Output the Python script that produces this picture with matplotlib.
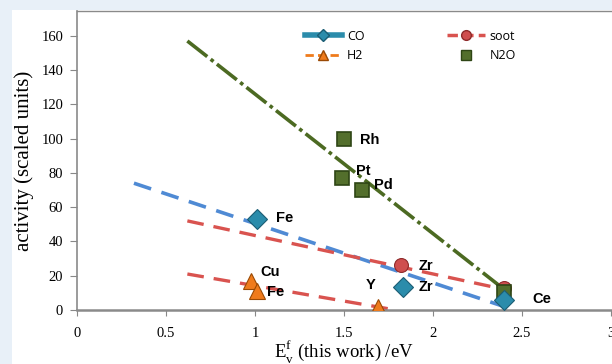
import matplotlib
matplotlib.use("Agg")
import matplotlib.pyplot as plt
from matplotlib.patches import Rectangle
from matplotlib.lines import Line2D

plt.rcParams["mathtext.fontset"] = "custom"
plt.rcParams["mathtext.rm"] = "Liberation Serif"

# ---- data ----
co_x = [1.01, 1.83, 2.40]
co_y = [53, 13.5, 6]
co_lab = ["Fe", "Zr", "Ce"]

soot_x = [1.82, 2.40]
soot_y = [26, 13]
soot_lab = ["Zr", ""]

h2_x = [0.98, 1.01, 1.69]
h2_y = [17, 11, 1.5]
h2_lab = ["Cu", "Fe", "Y"]

n2o_x = [1.50, 1.49, 1.60, 2.40]
n2o_y = [100, 77, 70, 10.5]
n2o_lab = ["Rh", "Pt", "Pd", ""]

# trend lines (end points)
co_fit_x = [0.32, 2.40]
co_fit_y = [74, 2]
soot_fit_x = [0.62, 2.38]
soot_fit_y = [52, 12.5]
h2_fit_x = [0.62, 1.79]
h2_fit_y = [21, 0]
n2o_fit_x = [0.62, 2.40]
n2o_fit_y = [157, 12]

x_ticks = [0, 0.5, 1, 1.5, 2, 2.5, 3]
x_ticklabels = ["0", "0.5", "1", "1.5", "2", "2.5", "3"]
y_ticks = [0, 20, 40, 60, 80, 100, 120, 140, 160]

# label placements (data coords)
labels = [
    ("Rh", 1.59, 99), ("Pt", 1.57, 81), ("Pd", 1.67, 73),
    ("Fe", 1.12, 53.5), ("Zr", 1.92, 25.5), ("Zr", 1.92, 13.5),
    ("Ce", 2.56, 6.5), ("Cu", 1.03, 22), ("Fe", 1.07, 10.5), ("Y", 1.62, 14.5),
]

# ---- figure ----
fig = plt.figure(figsize=(6.12, 3.64), dpi=100, facecolor="#e8f0f8")
fig.add_artist(Rectangle((12/612, 0), 1, 1 - 10/364, transform=fig.transFigure,
                         facecolor="white", edgecolor="none", zorder=-5))
ax = fig.add_axes([77/612, 54/364, (611-77)/612, (310-11)/364])
ax.set_zorder(2)
ax.set_facecolor("white")
ax.set_xlim(0, 3)
ax.set_ylim(0, 174.5)

serif = ["Liberation Serif", "DejaVu Serif"]

ax.plot(co_fit_x, co_fit_y, ls=(0, (5, 3)), color="#4f8ad4", lw=2.6, zorder=2)
ax.plot(soot_fit_x, soot_fit_y, ls=(0, (5, 3)), color="#d9534f", lw=2.4, zorder=2)
ax.plot(h2_fit_x, h2_fit_y, ls=(0, (5, 3)), color="#d9534f", lw=2.4, zorder=2)
ax.plot(n2o_fit_x, n2o_fit_y, ls=(0, (7, 1.2, 1, 1.2)), color="#4c6a22", lw=2.6, zorder=2)

ax.plot(n2o_x, n2o_y, ls="none", marker="s", ms=10, mfc="#536f2c", mec="#2e4515", mew=1.2, zorder=4)
ax.plot(soot_x, soot_y, ls="none", marker="o", ms=10, mfc="#cf4e4e", mec="#8e2a2a", mew=0.8, zorder=3)
ax.plot(co_x, co_y, ls="none", marker="D", ms=10, mfc="#2b8cab", mec="#1b5d74", mew=0.8, zorder=5)
ax.plot(h2_x, h2_y, ls="none", marker="^", ms=11, mfc="#ef7b1c", mec="#9a4a05", mew=0.8, zorder=5)

for t, x, y in labels:
    ax.text(x, y, t, fontsize=10.5, fontweight="bold", family=["Liberation Sans", "DejaVu Sans"],
            va="center", ha="left", zorder=6)

# legend
h_co = Line2D([], [], color="#2b8cab", lw=4, marker="D", ms=6, mfc="#2b8cab", mec="#1b5d74")
h_h2 = Line2D([], [], color="#ef7b1c", lw=2, ls=(0, (3, 1.5)), marker="^", ms=7, mfc="#ef7b1c", mec="#9a4a05")
h_soot = Line2D([], [], color="#d9534f", lw=2.5, ls=(0, (3, 1.5)), marker="o", ms=7, mfc="#cf4e4e", mec="#8e2a2a")
h_n2o = Line2D([], [], ls="none", marker="s", ms=7, mfc="#536f2c", mec="#2e4515")
leg = ax.legend([h_co, h_h2, h_soot, h_n2o], ["CO", "H2", "soot", "N2O"], ncol=2,
                loc="upper left", bbox_to_anchor=(0.405, 0.975), frameon=False,
                handlelength=3.0, columnspacing=6.6, handletextpad=0.4, labelspacing=0.5,
                prop={"family": ["Open Sans", "DejaVu Sans"], "size": 9})

ax.set_xticks(x_ticks)
ax.set_xticklabels(x_ticklabels)
ax.set_yticks(y_ticks)
for lab in ax.get_xticklabels() + ax.get_yticklabels():
    lab.set_family(serif)
    lab.set_fontsize(10.5)
ax.tick_params(axis="x", direction="out", length=4, pad=8, color="#888888")
ax.tick_params(axis="y", direction="out", length=5, pad=5, color="#888888")

for s in ["left", "top", "bottom"]:
    ax.spines[s].set_color("#8a8a8a")
ax.spines["bottom"].set_linewidth(1.8)
ax.spines["left"].set_linewidth(1.2)
ax.spines["top"].set_linewidth(1.0)
ax.spines["right"].set_visible(False)

ax.set_ylabel("activity (scaled units)", family=serif, fontsize=15, labelpad=5)
ax.set_xlabel(r"E$^{\mathrm{f}}_{\mathrm{v}}$ (this work) /eV", family=serif, fontsize=13.5, labelpad=-1)

fig.savefig("out.png", dpi=100, facecolor=fig.get_facecolor())
